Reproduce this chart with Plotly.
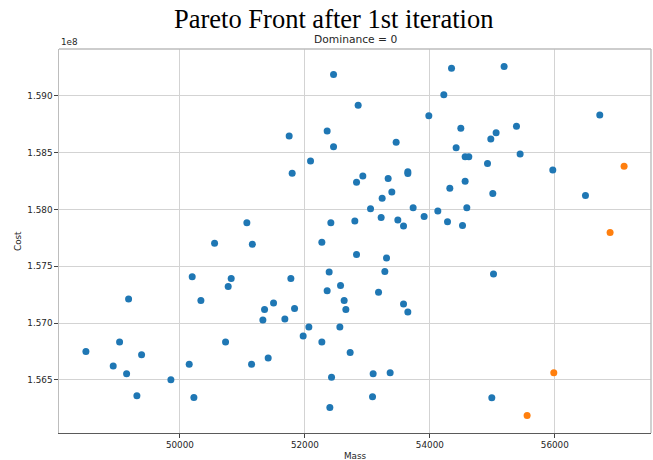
import plotly.graph_objects as go

# Design points of the first iteration (mass, cost)
mass = [
    52459, 52853, 54347, 54224, 53984, 51749, 52357, 52459, 53461, 52091,
    51797, 53648, 53648, 52928, 52827, 53333, 54320, 53392, 53237, 53051,
    53733, 54128, 52416, 52800, 53221, 53488, 53579, 53909, 54283, 52272,
    51160, 55189, 56720, 54496, 55387, 55061, 54976, 54421, 54565, 54624,
    55445, 54923, 55968, 54565, 55008, 56491, 54592, 54523, 51072, 50555,
    50197, 50821, 50773, 49179, 50336, 49035, 50731, 48496, 49387, 48933,
    50149, 51147, 49147, 49856, 49312, 50224, 52827, 53307, 52389, 53280,
    51776, 52571, 52357, 53179, 51499, 51355, 51835, 52629, 52656, 53579,
    53648, 51328, 51680, 52064, 51973, 52560, 52272, 52725, 51413, 52427,
    53093, 53365, 53083, 52400, 55019, 54992,
]
cost = [
    159188000, 158916000, 159242000, 159009000, 158824000, 158646000, 158690000, 158552000, 158591000, 158426000,
    158318000, 158332000, 158315000, 158295000, 158239000, 158271000, 158187000, 158154000, 158099000, 158005000,
    158014000, 157985000, 157882000, 157899000, 157928000, 157906000, 157853000, 157937000, 157891000, 157711000,
    157693000, 159258000, 158830000, 158714000, 158731000, 158675000, 158620000, 158543000, 158464000, 158464000,
    158488000, 158403000, 158347000, 158248000, 158139000, 158122000, 158014000, 157858000, 157882000, 157703000,
    157407000, 157393000, 157322000, 157212000, 157199000, 156834000, 156834000, 156749000, 156722000, 156623000,
    156637000, 156637000, 156553000, 156500000, 156360000, 156345000, 157603000, 157572000, 157449000, 157454000,
    157393000, 157331000, 157284000, 157270000, 157176000, 157120000, 157129000, 157199000, 157120000, 157168000,
    157097000, 157027000, 157036000, 156966000, 156887000, 156966000, 156834000, 156740000, 156693000, 156523000,
    156553000, 156562000, 156351000, 156257000, 157431000, 156342000,
]

# Non-dominated designs (Pareto front)
front_mass = [57109, 56885, 55984, 55557]
front_cost = [158380000, 157797000, 156562000, 156186000]

x_ticks = [50000, 52000, 54000, 56000]
y_ticks = [1.565, 1.570, 1.575, 1.580, 1.585, 1.590]

SCALE = 1e8
FONT = "DejaVu Sans"
TEXT = "#262626"


def padded(lo, hi, frac=0.05):
    span = hi - lo
    return [lo - frac * span, hi + frac * span]


all_x = mass + front_mass
all_y = [c / SCALE for c in cost + front_cost]

fig = go.Figure()
fig.add_trace(go.Scatter(
    x=mass, y=[c / SCALE for c in cost], mode="markers",
    marker=dict(color="#1f77b4", size=7, line=dict(width=0)),
    showlegend=False,
))
fig.add_trace(go.Scatter(
    x=front_mass, y=[c / SCALE for c in front_cost], mode="markers",
    marker=dict(color="#ff7f0e", size=7, line=dict(width=0)),
    showlegend=False,
))

fig.update_layout(
    width=653, height=460, autosize=False,
    margin=dict(l=59, r=2, t=49, b=27),
    paper_bgcolor="white", plot_bgcolor="white",
    title=dict(
        text="Pareto Front after 1st iteration",
        font=dict(family="Liberation Serif", size=26.5, color="black"),
        xref="container", x=333.7 / 653, xanchor="center",
        yref="container", y=1 - 19 / 460, yanchor="middle",
    ),
)

fig.update_xaxes(
    range=padded(min(all_x), max(all_x)),
    tickvals=x_ticks, ticktext=[str(v) for v in x_ticks],
    showgrid=True, gridcolor="#d3d3d3", gridwidth=1,
    zeroline=False,
    showline=True, linecolor="#5a5a5a", linewidth=1.2,
    ticks="outside", ticklen=3.5, tickwidth=0.8, tickcolor="#444",
    tickfont=dict(family=FONT, size=8.8, color=TEXT),
)
fig.update_yaxes(
    range=padded(min(all_y), max(all_y)),
    tickvals=y_ticks, ticktext=[f"{v:.3f}" for v in y_ticks],
    showgrid=True, gridcolor="#d3d3d3", gridwidth=1,
    zeroline=False,
    showline=True, linecolor="#bdbdbd", linewidth=1.4,
    ticks="outside", ticklen=3.5, tickwidth=0.8, tickcolor="#444",
    tickfont=dict(family=FONT, size=8.8, color=TEXT),
)

# Top and right frame edges
fig.add_shape(type="line", xref="paper", yref="paper", x0=0, x1=1, y0=1, y1=1,
              line=dict(color="#bdbdbd", width=1.4))
fig.add_shape(type="line", xref="paper", yref="paper", x0=1, x1=1, y0=0, y1=1,
              line=dict(color="#bdbdbd", width=1.4))

fig.add_annotation(text="Dominance = 0", xref="paper", yref="paper", x=0.5, y=1,
                   xanchor="center", yanchor="bottom", yshift=1, showarrow=False,
                   font=dict(family=FONT, size=10.7, color=TEXT))
fig.add_annotation(text="1e8", xref="paper", yref="paper", x=0, y=1,
                   xanchor="left", yanchor="bottom", yshift=0, showarrow=False,
                   font=dict(family=FONT, size=8.8, color=TEXT))
fig.add_annotation(text="Mass", xref="paper", yref="paper", x=0.5, y=0,
                   xanchor="center", yanchor="middle", yshift=-22.7, showarrow=False,
                   font=dict(family=FONT, size=8.8, color=TEXT))
fig.add_annotation(text="Cost", xref="paper", yref="paper", x=0, y=0.5,
                   xanchor="center", yanchor="middle", xshift=-41, textangle=-90,
                   showarrow=False, font=dict(family=FONT, size=8.8, color=TEXT))

fig.write_html("out.html")
